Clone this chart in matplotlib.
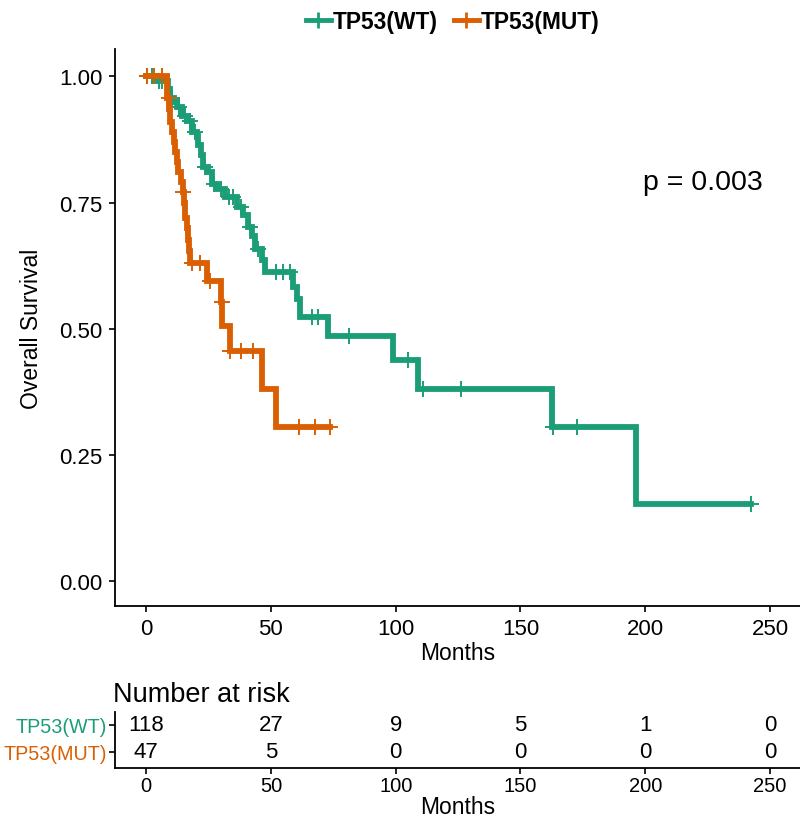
import numpy as np
import matplotlib.pyplot as plt

plt.rcParams['font.family'] = ['Liberation Sans', 'DejaVu Sans']

green = '#1B9E77'
orange = '#D95F02'

# Kaplan-Meier steps
wt_times = [0, 3.5, 8.8, 9.6, 11.0, 12.4, 14.4, 16.8, 18.4, 20.4, 20.8, 22.0, 22.8, 24.8,
            26.4, 28.4, 31.6, 36.5, 38.9, 40.9, 42.5, 43.7, 46.5, 47.7, 58.9, 60.5, 61.7,
            72.9, 99.0, 109.0, 162.7, 196.3]
wt_surv = [1.0, 0.991, 0.975, 0.958, 0.95, 0.94, 0.921, 0.911, 0.89, 0.881, 0.865, 0.845,
           0.82, 0.81, 0.786, 0.776, 0.762, 0.742, 0.726, 0.702, 0.683, 0.657, 0.637, 0.613,
           0.583, 0.558, 0.524, 0.486, 0.437, 0.381, 0.306, 0.153]
wt_end = 242.4
wt_cens = [0.5, 2.5, 5.0, 6.5, 10.5, 13.0, 15.5, 17.5, 19.5, 23.5, 27.0, 30.0, 33.0, 35.0,
           38.0, 41.5, 45.0, 52.0, 55.0, 57.5, 66.5, 68.9, 81.3, 105.0, 111.0, 126.2, 163.0,
           172.7, 242.4]

mut_times = [0, 8.4, 9.2, 9.6, 10.4, 11.0, 11.6, 12.2, 12.8, 14.0, 14.6, 15.0, 15.6, 16.2,
             16.6, 17.0, 17.6, 24.4, 30.0, 30.5, 33.6, 46.5, 52.0]
mut_surv = [1.0, 0.957, 0.935, 0.91, 0.89, 0.87, 0.85, 0.83, 0.81, 0.79, 0.77, 0.75, 0.72,
            0.70, 0.675, 0.653, 0.631, 0.595, 0.553, 0.506, 0.456, 0.38, 0.305]
mut_end = 73.5
mut_cens = [0.3, 3.0, 6.2, 9.0, 14.8, 18.4, 21.6, 25.6, 30.2, 33.8, 38.0, 42.9, 61.3, 67.7, 73.5]

risk_times = [0, 50, 100, 150, 200, 250]
wt_risk = [118, 27, 9, 5, 1, 0]
mut_risk = [47, 5, 0, 0, 0, 0]
groups = ['TP53(WT)', 'TP53(MUT)']
p_text = 'p = 0.003'


def surv_at(times, surv, t):
    idx = np.searchsorted(times, t, side='right') - 1
    return np.array(surv)[idx]


fig = plt.figure(figsize=(8, 8.2), dpi=100)
ax = fig.add_axes([0.144, 0.2598, 0.856, 0.679])

curves = [(wt_times, wt_surv, wt_end, wt_cens, green),
          (mut_times, mut_surv, mut_end, mut_cens, orange)]
handles = []
for (tt, ss, end, cens, col), name in zip(curves, groups):
    x = list(tt) + [end]
    y = list(ss) + [ss[-1]]
    ax.step(x, y, where='post', color=col, lw=4.2, solid_joinstyle='miter')
    ax.plot(cens, surv_at(tt, ss, cens), ls='none', marker='+', ms=11, mew=1.4, color=col)
    h, = ax.plot([], [], color=col, lw=3.5, marker='+', ms=12, mew=2, label=name)
    handles.append(h)

ax.set_xlim(-12.4, 262)
ax.set_ylim(-0.0496, 1.054)
ax.set_xticks(risk_times)
ax.set_yticks([0, 0.25, 0.5, 0.75, 1.0])
ax.set_yticklabels(['0.00', '0.25', '0.50', '0.75', '1.00'])
ax.tick_params(labelsize=16, length=4, width=1.2, colors='black', pad=5)
ax.set_xlabel('Months', fontsize=16.5, labelpad=1)
ax.set_ylabel('Overall Survival', fontsize=16.5, labelpad=12)
for s in ['top', 'right']:
    ax.spines[s].set_visible(False)
for s in ['left', 'bottom']:
    ax.spines[s].set_linewidth(1.3)
ax.text(223, 0.79, p_text, fontsize=20.5, ha='center', va='center')

fig.legend(handles=handles, loc='upper center', bbox_to_anchor=(0.566, 1.012), ncol=2,
           frameon=False, prop={'weight': 'bold', 'size': 16.4}, handlelength=1.1,
           columnspacing=0.7, handletextpad=0.1)

# risk table
fig.text(0.141, 0.152, 'Number at risk', fontsize=19.5, ha='left', va='center')
tab = fig.add_axes([0.144, 0.0622, 0.856, 0.0683])
for row, counts in zip([1, 0], [wt_risk, mut_risk]):
    for t, n in zip(risk_times, counts):
        tab.text(t, row, str(n), ha='center', va='center', fontsize=16)
tab.set_xlim(-12.4, 262)
tab.set_ylim(-0.593, 1.481)
tab.set_xticks(risk_times)
tab.set_yticks([1, 0])
tab.set_yticklabels(groups)
for lab, col in zip(tab.get_yticklabels(), [green, orange]):
    lab.set_color(col)
tab.tick_params(axis='y', labelsize=14.2, length=4, width=1.2, pad=2)
tab.tick_params(axis='x', labelsize=14.5, length=4, width=1.2, pad=2)
tab.set_xlabel('Months', fontsize=16.5, labelpad=0)
for s in ['top', 'right']:
    tab.spines[s].set_visible(False)
for s in ['left', 'bottom']:
    tab.spines[s].set_linewidth(1.3)

fig.savefig('out.png', dpi=100)
